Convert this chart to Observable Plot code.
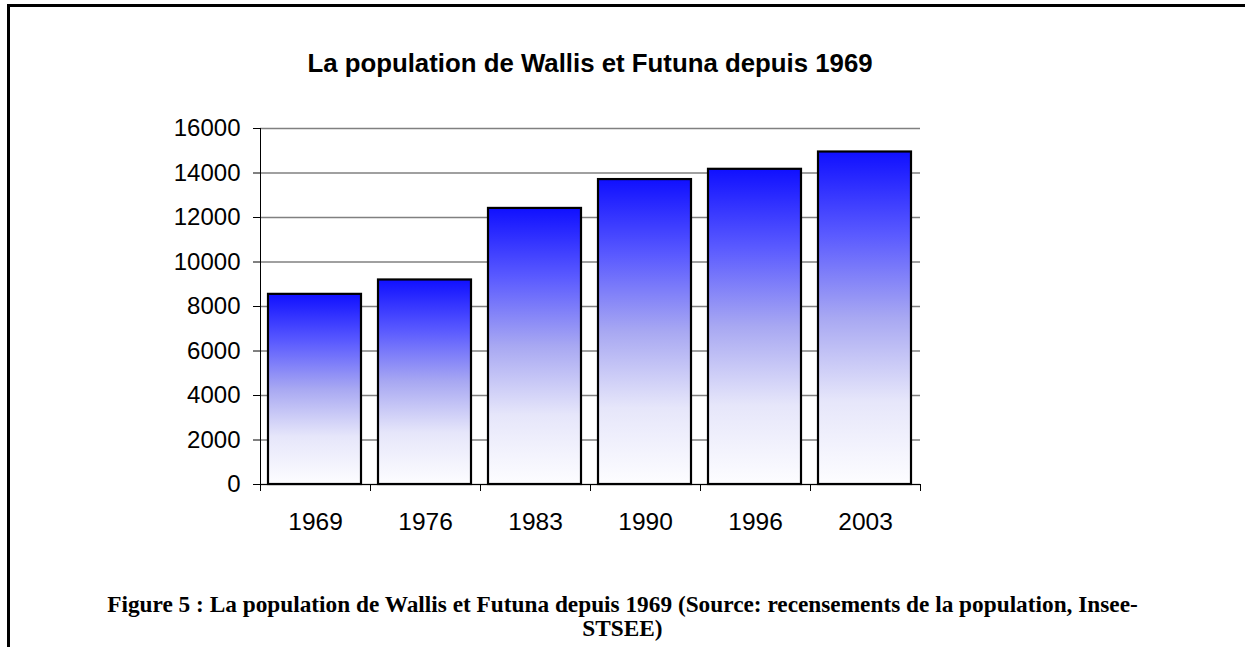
<!DOCTYPE html>
<html>
<head>
<meta charset="utf-8">
<script src="https://cdn.jsdelivr.net/npm/d3@7"></script>
<script src="https://cdn.jsdelivr.net/npm/@observablehq/plot@0.6"></script>
<style>
  html, body { margin: 0; padding: 0; background: #fff; }
  #wrap { position: relative; width: 1245px; height: 647px; overflow: hidden; }
  #frame { position: absolute; left: 7px; top: 4px; width: 1300px; height: 700px;
           border-top: 3px solid #000; border-left: 3px solid #000; box-sizing: border-box; }
  #title { position: absolute; left: 0; width: 1180px; top: 47px; text-align: center;
           font: bold 25.8px "Liberation Sans", Arial, sans-serif; line-height: 32px; color: #000; }
  #chart { position: absolute; left: 0; top: 100px; }
  #caption { position: absolute; left: 0; width: 1245px; top: 592px; text-align: center;
             font: bold 23.3px "Liberation Serif", "Times New Roman", serif; line-height: 24px; color: #000; }
</style>
</head>
<body>
<div id="wrap">
  <div id="frame"></div>
  <div id="title">La population de Wallis et Futuna depuis 1969</div>
  <div id="chart"></div>
  <div id="caption">Figure 5 : La population de Wallis et Futuna depuis 1969 (Source: recensements de la population, Insee-<br>STSEE)</div>
</div>
<script>
const years = ["1969", "1976", "1983", "1990", "1996", "2003"];
const population = [8546, 9192, 12408, 13705, 14166, 14944];
const yTicks = [0, 2000, 4000, 6000, 8000, 10000, 12000, 14000, 16000];

const data = years.map((y, i) => ({year: y, i, pop: population[i]}));
const boundaries = d3.range(years.length + 1);
const centers = years.map((_, i) => i + 0.5);

const defs = () => {
  const ns = "http://www.w3.org/2000/svg";
  const d = document.createElementNS(ns, "defs");
  const g = document.createElementNS(ns, "linearGradient");
  g.setAttribute("id", "barGrad");
  g.setAttribute("x1", "0"); g.setAttribute("y1", "0");
  g.setAttribute("x2", "0"); g.setAttribute("y2", "1");
  [[0, "#1010ff"], [0.25, "#5a5aff"], [0.5, "#a8a8f2"], [0.75, "#e6e6fa"], [1, "#fdfdff"]].forEach(([o, c]) => {
    const s = document.createElementNS(ns, "stop");
    s.setAttribute("offset", o);
    s.setAttribute("stop-color", c);
    g.appendChild(s);
  });
  d.appendChild(g);
  return d;
};

const chart = Plot.plot({
  width: 1245,
  height: 450,
  marginLeft: 260,
  marginRight: 325,
  marginTop: 28,
  marginBottom: 66,
  style: {fontFamily: "'Liberation Sans', Arial, sans-serif", fontSize: "24px", color: "#000", background: "transparent"},
  x: {type: "linear", domain: [0, years.length], axis: null},
  y: {domain: [0, 16000], axis: null},
  marks: [
    defs,
    Plot.ruleY(yTicks, {x1: 0, x2: years.length, stroke: "#808080", strokeWidth: 1.3}),
    Plot.rectY(data, {
      x1: d => d.i, x2: d => d.i + 1, y1: 0, y2: "pop",
      insetLeft: 8, insetRight: 9,
      fill: "url(#barGrad)", stroke: "#000", strokeWidth: 2.2
    }),
    Plot.ruleX([0], {stroke: "#000", strokeWidth: 1}),
    Plot.ruleY([0], {stroke: "#000", strokeWidth: 1}),
    Plot.axisY(yTicks, {
      anchor: "left", tickSize: 7, tickPadding: 13, tickFormat: d => String(d),
      stroke: "#000", fill: "#000", label: null, fontSize: 24
    }),
    Plot.axisX(boundaries, {
      anchor: "bottom", tickSize: 7, tickFormat: () => "", stroke: "#000", label: null
    }),
    Plot.text(centers, {
      x: d => d, y: 0, text: (d, i) => years[i], dy: 38,
      fontSize: 24.5, fill: "#000"
    })
  ]
});
document.getElementById("chart").appendChild(chart);
</script>
</body>
</html>
